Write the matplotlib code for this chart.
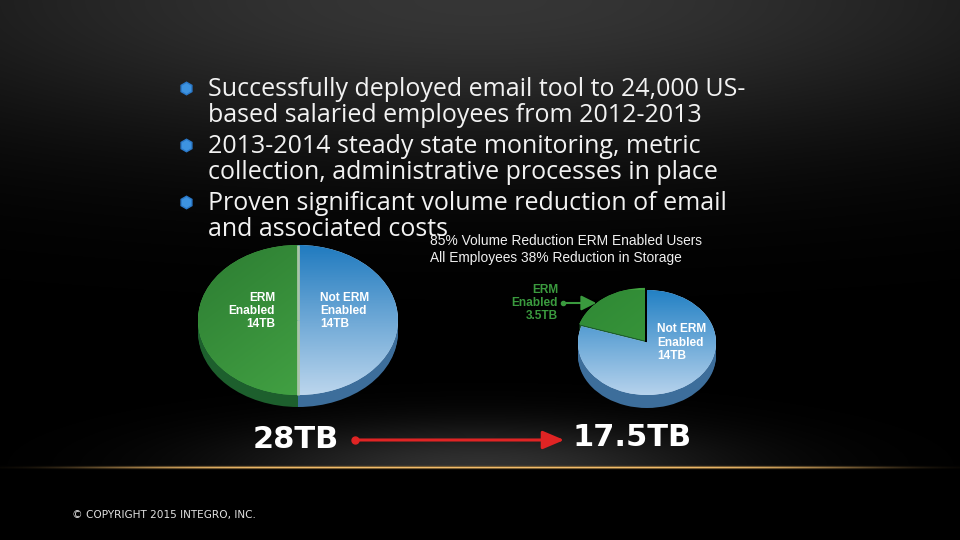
import numpy as np
import matplotlib.pyplot as plt
from matplotlib.colors import LinearSegmentedColormap

W, H = 960, 540

# slide text
bullets = [
    ["Successfully deployed email tool to 24,000 US-", "based salaried employees from 2012-2013"],
    ["2013-2014 steady state monitoring, metric", "collection, administrative processes in place"],
    ["Proven significant volume reduction of email", "and associated costs"],
]
notes = ["85% Volume Reduction ERM Enabled Users", "All Employees 38% Reduction in Storage"]

# pie data (TB)
before_labels = ["ERM\nEnabled\n14TB", "Not ERM\nEnabled\n14TB"]
before_tb = [14, 14]
after_labels = ["ERM\nEnabled\n3.5TB", "Not ERM\nEnabled\n14TB"]
after_tb = [3.5, 14]
before_total = "28TB"
after_total = "17.5TB"
copyright_text = "\u00a9 COPYRIGHT 2015 INTEGRO, INC."

fig = plt.figure(figsize=(9.6, 5.4), dpi=100)
fig.patch.set_facecolor("black")

# background: dark vignette, glow and gold rule
ax_bg = fig.add_axes([0, 0, 1, 1])
yy, xx = np.mgrid[0:H, 0:W]
top = 0.21 * np.exp(-(yy / 150.0) ** 2) * np.exp(-((xx - 480) / 650.0) ** 2)
glow = 0.19 * np.exp(-((xx - 480) / 240.0) ** 2 - ((yy - 466) / 42.0) ** 2) * (yy < 466)
v = top + glow
bg = np.dstack([v, v, v])
rule = np.exp(-((xx - 480) / 390.0) ** 6) * np.exp(-((yy - 467) / 1.2) ** 2)
gold = np.array([0.95, 0.74, 0.42])
bg = bg * (1 - rule[..., None]) + gold * rule[..., None]
ax_bg.imshow(np.clip(bg, 0, 1), extent=[0, W, H, 0], aspect="auto", zorder=0)
ax_bg.set_xlim(0, W)
ax_bg.set_ylim(H, 0)
ax_bg.set_axis_off()

# bullets
body_font = ["Open Sans", "DejaVu Sans"]
baselines = [[96, 122], [153, 179], [210, 236]]
for lines, ys in zip(bullets, baselines):
    ax_bg.plot(186, ys[0] - 8, marker="h", ms=9, color="#3d93e0", mec="#2a78c8", zorder=3)
    for txt, y in zip(lines, ys):
        ax_bg.text(208, y, txt, color="#f2f2f2", fontsize=18, family=body_font,
                   va="baseline", ha="left", zorder=3)

for txt, y in zip(notes, [241, 258]):
    ax_bg.text(430, y, txt, color="#f0f0f0", fontsize=9.9, family="Liberation Sans",
               va="center", ha="left", zorder=3)

label_font = "Liberation Sans"
lab = dict(color="white", fontsize=8.6, fontweight="bold", family=label_font,
           va="center", linespacing=1.12, zorder=6)


def make_cmap(c1, c2):
    return LinearSegmentedColormap.from_list("g", [c1, c2])


def draw_pie(rect, values, depth, top_cols, side_cols, explode, diag):
    ax = fig.add_axes(rect)
    ax.patch.set_alpha(0)
    for k in np.linspace(depth, 0, 12)[:-1]:
        ax.pie(values, startangle=90, colors=side_cols, explode=explode,
               center=(0, -k), wedgeprops=dict(linewidth=0))
    wedges, _ = ax.pie(values, startangle=90, colors=[c[1] for c in top_cols],
                       explode=explode, wedgeprops=dict(linewidth=0))
    gy, gx = np.mgrid[1:-1:200j, -1:1:200j]
    for w, cols, d in zip(wedges, top_cols, diag):
        if d:
            t = ((gx + 1) / 2 + (1 - gy) / 2) / 2
        else:
            t = (1 - gy) / 2
        im = ax.imshow(t, extent=[-1.1, 1.1, -1.1, 1.1], cmap=make_cmap(*cols),
                       vmin=0, vmax=1, aspect="auto", zorder=w.get_zorder() + 0.1)
        im.set_clip_path(w)
    ax.set_xlim(-1, 1)
    ax.set_ylim(-1 - depth, 1)
    ax.set_aspect("auto")
    ax.set_axis_off()
    return ax, wedges


def rect_px(x0, x1, y0, y1):
    return [x0 / W, 1 - y1 / H, (x1 - x0) / W, (y1 - y0) / H]


# before pie: centre (298, 320), rx 100, ry 75, depth 12 px
ax1, w1 = draw_pie(rect_px(198, 398, 245, 407), before_tb, 12 / 75,
                   [("#2b7a31", "#4aae49"), ("#1876bd", "#c3daef")],
                   ["#1d5f2d", "#3d6e9b"], [0, 0], [True, False])
for a in (w1[0].theta1, w1[0].theta2):
    r = np.deg2rad(a)
    ax1.plot([0, np.cos(r)], [0, np.sin(r)], color="#a9c4a9", lw=2,
             solid_capstyle="butt", zorder=5)
ax1.text(-0.23, 0.12, before_labels[0], ha="right", **lab)
ax1.text(0.22, 0.12, before_labels[1], ha="left", **lab)

# after pie: centre (647, 342), rx 69, ry 52.5, depth 13 px
ax2, w2 = draw_pie(rect_px(578, 716, 290, 408), after_tb, 13 / 52.5,
                   [("#2e8734", "#40a140"), ("#1a7cc2", "#bdd6ee")],
                   ["#1d5f2d", "#3d6e9b"], [0.05, 0], [True, False])
ax2.text(0.15, 0.0, after_labels[1], ha="left", **lab)

ax_bg.text(558, 303, after_labels[0], ha="right", **dict(lab, color="#3a9a3e", zorder=3))
ax_bg.annotate("", xy=(599, 303), xytext=(563, 303),
               arrowprops=dict(arrowstyle="-|>,head_length=0.9,head_width=0.45",
                               color="#3a9a3e", lw=1.5), zorder=3)
ax_bg.plot(563, 303, "o", ms=3, color="#3a9a3e", zorder=3)

# totals
ax_bg.text(253, 439, before_total, color="white", fontsize=22, fontweight="bold",
           family="DejaVu Sans", ha="left", va="center", zorder=3)
ax_bg.text(573, 437, after_total, color="white", fontsize=22, fontweight="bold",
           family="DejaVu Sans", ha="left", va="center", zorder=3)
ax_bg.annotate("", xy=(567, 440), xytext=(355, 440),
               arrowprops=dict(arrowstyle="-|>,head_length=1.3,head_width=0.55",
                               color="#e02424", lw=2.2), zorder=3)
ax_bg.plot(355, 440, "o", ms=5, color="#e02424", zorder=3)

ax_bg.text(72, 515, copyright_text, color="#e0e0e0", fontsize=7.6, family="DejaVu Sans",
           ha="left", va="center", zorder=3)

fig.savefig("out.png", dpi=100, facecolor="black")
